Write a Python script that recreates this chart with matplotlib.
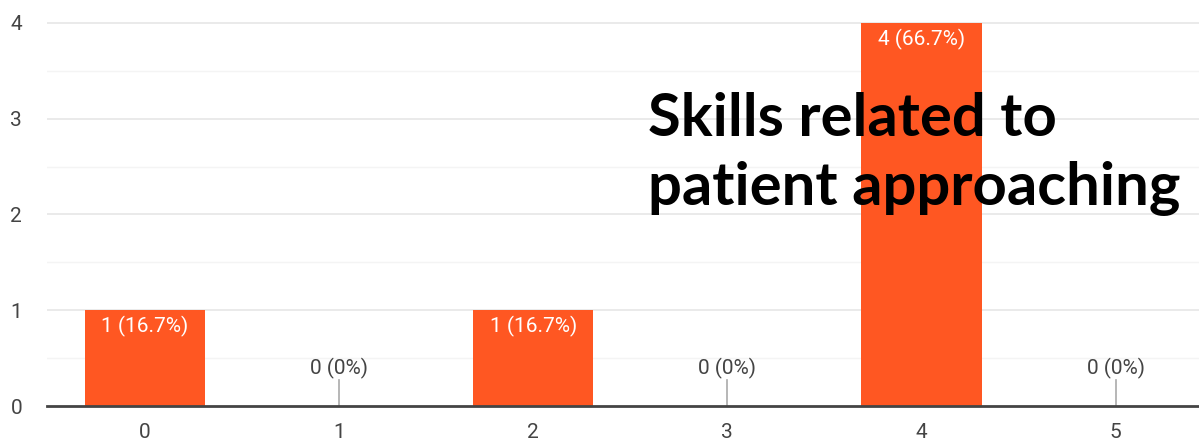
import matplotlib.pyplot as plt

categories = ["0", "1", "2", "3", "4", "5"]
counts = [1, 0, 1, 0, 4, 0]
labels = ["1 (16.7%)", "0 (0%)", "1 (16.7%)", "0 (0%)", "4 (66.7%)", "0 (0%)"]
title = "Skills related to\npatient approaching"

fig = plt.figure(figsize=(11.99, 4.48), dpi=100)
ax = fig.add_axes([47/1199, 42/448, 1 - 47/1199, 406/448])

x = list(range(len(categories)))
ax.bar(x, counts, width=0.62, color="#ff5722", zorder=3)

for i, (c, lab) in enumerate(zip(counts, labels)):
    if c > 0:
        ax.text(i, c - 0.06, lab, ha="center", va="top", color="white",
                fontsize=15, family="Roboto", zorder=4)
    else:
        ax.plot([i, i], [0, 0.27], color="#aaaaaa", lw=1.2, zorder=2)
        ax.text(i, 0.28, lab, ha="center", va="bottom", color="#444444",
                fontsize=15, family="Roboto", zorder=4)

ax.set_xlim(-0.505, 5.43)
ax.set_ylim(0, 4.24)
ax.set_xticks(x)
ax.set_xticklabels(categories)
ax.set_yticks([0, 1, 2, 3, 4])
for y in [0.5, 1.5, 2.5, 3.5]:
    ax.axhline(y, color="#f4f4f4", lw=1, zorder=1)
for y in [1, 2, 3, 4]:
    ax.axhline(y, color="#e6e6e6", lw=1.2, zorder=1)

for s in ["top", "right", "left"]:
    ax.spines[s].set_visible(False)
ax.spines["bottom"].set_color("#444444")
ax.spines["bottom"].set_linewidth(2)
ax.spines["bottom"].set_zorder(5)
ax.tick_params(length=0, labelsize=15, labelcolor="#444444", pad=12)
ax.tick_params(axis="y", pad=18)
for t in ax.get_xticklabels() + ax.get_yticklabels():
    t.set_family("Roboto")

fig.text(648/1199, 1 - 92/448, title, ha="left", va="top", fontsize=43,
         fontweight="bold", family="Lato", color="black",
         linespacing=1.34)

fig.savefig("out.png", dpi=100)
